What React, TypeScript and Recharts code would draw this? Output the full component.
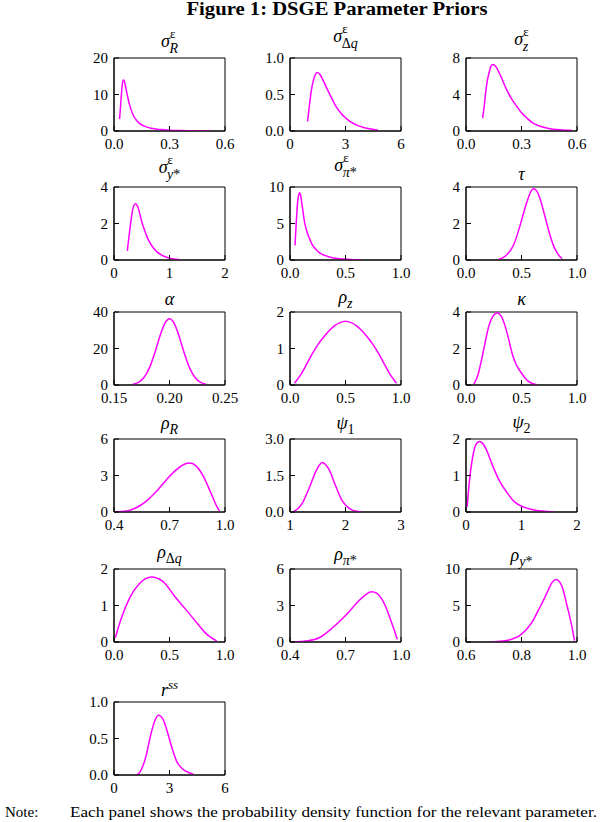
import React from 'react';
import { LineChart, Line, XAxis, YAxis, ReferenceArea } from 'recharts';

const SERIF = '"Liberation Serif", "Times New Roman", Times, serif';
const MAGENTA = '#FF00FF';

// ---------- data ----------
const sigmaR_x = [0.03, 0.035, 0.04, 0.045, 0.05, 0.055, 0.06, 0.07, 0.08, 0.09, 0.1, 0.12, 0.14, 0.17, 0.2, 0.25, 0.3, 0.35, 0.4, 0.46, 0.52];
const sigmaR_y = [3.3, 6.5, 10.0, 12.8, 14.0, 13.8, 12.8, 10.3, 8.0, 6.2, 4.8, 3.0, 2.0, 1.2, 0.75, 0.4, 0.22, 0.13, 0.08, 0.05, 0.03];

const sigmaDq_x = [0.95, 1.05, 1.15, 1.25, 1.35, 1.47, 1.6, 1.8, 2.0, 2.25, 2.5, 2.8, 3.05, 3.3, 3.6, 4.1, 4.75];
const sigmaDq_y = [0.13, 0.35, 0.55, 0.68, 0.76, 0.8, 0.78, 0.69, 0.58, 0.45, 0.33, 0.23, 0.17, 0.12, 0.08, 0.04, 0.01];

const sigmaZ_x = [0.09, 0.1, 0.108, 0.117, 0.126, 0.135, 0.145, 0.16, 0.186, 0.22, 0.25, 0.276, 0.3, 0.33, 0.36, 0.384, 0.43, 0.47, 0.52, 0.57];
const sigmaZ_y = [1.4, 3.0, 4.5, 5.7, 6.5, 7.1, 7.3, 7.1, 6.1, 4.5, 3.4, 2.65, 2.0, 1.4, 0.9, 0.65, 0.35, 0.2, 0.12, 0.07];

const sigmaYs_x = [0.24, 0.27, 0.3, 0.33, 0.36, 0.39, 0.43, 0.5, 0.56, 0.62, 0.7, 0.77, 0.86, 0.95, 1.05, 1.19];
const sigmaYs_y = [0.5, 1.3, 2.0, 2.66, 3.0, 3.08, 2.9, 2.1, 1.55, 1.1, 0.7, 0.46, 0.27, 0.15, 0.07, 0.02];

const sigmaPs_x = [0.045, 0.054, 0.063, 0.072, 0.08, 0.087, 0.095, 0.11, 0.13, 0.15, 0.174, 0.2, 0.234, 0.27, 0.32, 0.38, 0.44, 0.54, 0.64];
const sigmaPs_y = [2.0, 4.5, 6.8, 8.4, 9.0, 9.2, 8.9, 7.4, 5.3, 4.0, 3.0, 2.1, 1.45, 0.95, 0.6, 0.32, 0.18, 0.08, 0.03];

const tau_x = [0.294, 0.33, 0.37, 0.4, 0.43, 0.46, 0.49, 0.52, 0.55, 0.58, 0.61, 0.64, 0.67, 0.7, 0.73, 0.76, 0.79, 0.82, 0.865];
const tau_y = [0.03, 0.12, 0.3, 0.52, 0.85, 1.35, 1.95, 2.6, 3.2, 3.7, 3.9, 3.75, 3.3, 2.65, 1.95, 1.3, 0.76, 0.4, 0.07];

const alpha_x = [0.167, 0.172, 0.177, 0.182, 0.187, 0.192, 0.196, 0.2, 0.204, 0.208, 0.213, 0.218, 0.223, 0.228, 0.233];
const alpha_y = [0.4, 1.4, 4.1, 9.5, 18.1, 27.9, 34.0, 36.3, 34.0, 27.9, 18.1, 9.5, 4.1, 1.4, 0.4];

const rhoZ_x = [0.04, 0.1, 0.15, 0.2, 0.25, 0.3, 0.35, 0.4, 0.45, 0.5, 0.55, 0.6, 0.65, 0.7, 0.75, 0.8, 0.85, 0.9, 0.96];
const rhoZ_y = [0.05, 0.3, 0.57, 0.85, 1.1, 1.3, 1.48, 1.62, 1.71, 1.75, 1.71, 1.62, 1.48, 1.3, 1.1, 0.85, 0.57, 0.3, 0.05];

const kappa_x = [0.07, 0.11, 0.144, 0.175, 0.204, 0.24, 0.28, 0.32, 0.354, 0.385, 0.414, 0.45, 0.49, 0.53, 0.565, 0.64];
const kappa_y = [0.04, 0.6, 1.5, 2.4, 3.2, 3.75, 3.94, 3.75, 3.2, 2.5, 1.77, 1.15, 0.74, 0.4, 0.19, 0.02];

const rhoR_x = [0.404, 0.467, 0.52, 0.575, 0.63, 0.684, 0.738, 0.783, 0.81, 0.846, 0.883, 0.92, 0.955, 0.97];
const rhoR_y = [0.0, 0.08, 0.35, 0.9, 1.7, 2.66, 3.48, 3.94, 4.02, 3.75, 2.93, 1.7, 0.49, 0.08];

const psi1_x = [1.06, 1.15, 1.23, 1.35, 1.47, 1.53, 1.585, 1.64, 1.7, 1.82, 1.94, 2.06, 2.18, 2.29];
const psi1_y = [0.01, 0.15, 0.4, 1.01, 1.69, 1.93, 2.03, 1.95, 1.76, 1.08, 0.47, 0.16, 0.04, 0.0];

const psi2_x = [0.02, 0.06, 0.12, 0.18, 0.24, 0.3, 0.36, 0.48, 0.6, 0.73, 0.88, 1.03, 1.15, 1.27, 1.4, 1.58];
const psi2_y = [0.14, 0.82, 1.5, 1.85, 1.93, 1.88, 1.73, 1.27, 0.86, 0.55, 0.27, 0.14, 0.08, 0.04, 0.02, 0.0];

const rhoDq_x = [0.012, 0.066, 0.14, 0.23, 0.337, 0.44, 0.55, 0.65, 0.74, 0.83, 0.925];
const rhoDq_y = [0.12, 0.65, 1.2, 1.6, 1.78, 1.66, 1.24, 0.88, 0.55, 0.23, 0.03];

const rhoPs_x = [0.423, 0.486, 0.558, 0.63, 0.7, 0.77, 0.81, 0.84, 0.87, 0.897, 0.92, 0.943, 0.965, 0.98];
const rhoPs_y = [0.0, 0.08, 0.35, 1.17, 2.18, 3.35, 3.9, 4.12, 4.0, 3.5, 2.8, 1.85, 0.9, 0.22];

const rhoYs_x = [0.69, 0.745, 0.794, 0.82, 0.842, 0.86, 0.879, 0.895, 0.909, 0.925, 0.945, 0.964, 0.982, 0.991];
const rhoYs_y = [0.0, 0.2, 0.9, 1.8, 2.95, 4.3, 5.7, 7.0, 8.1, 8.55, 7.7, 5.0, 2.05, 0.2];

const rss_x = [1.21, 1.4, 1.57, 1.75, 1.93, 2.2, 2.4, 2.66, 2.84, 3.02, 3.2, 3.38, 3.6, 3.83, 4.29];
const rss_y = [0.0, 0.04, 0.13, 0.28, 0.49, 0.74, 0.82, 0.76, 0.63, 0.47, 0.32, 0.19, 0.11, 0.06, 0.01];

// ---------- tick values and labels ----------
const xt_0_06 = [0, 0.3, 0.6];      const xl_0_06 = ['0.0', '0.3', '0.6'];
const xt_0_6 = [0, 3, 6];           const xl_0_6 = ['0', '3', '6'];
const xt_0_2 = [0, 1, 2];           const xl_0_2 = ['0', '1', '2'];
const xt_0_1 = [0, 0.5, 1];         const xl_0_1 = ['0.0', '0.5', '1.0'];
const xt_015 = [0.15, 0.2, 0.25];   const xl_015 = ['0.15', '0.20', '0.25'];
const xt_04_1 = [0.4, 0.7, 1];      const xl_04_1 = ['0.4', '0.7', '1.0'];
const xt_1_3 = [1, 2, 3];           const xl_1_3 = ['1', '2', '3'];
const xt_06_1 = [0.6, 0.8, 1];      const xl_06_1 = ['0.6', '0.8', '1.0'];

const yt_20 = [0, 10, 20];   const yl_20 = ['0', '10', '20'];
const yt_1 = [0, 0.5, 1];    const yl_1 = ['0.0', '0.5', '1.0'];
const yt_8 = [0, 4, 8];      const yl_8 = ['0', '4', '8'];
const yt_4 = [0, 2, 4];      const yl_4 = ['0', '2', '4'];
const yt_10 = [0, 5, 10];    const yl_10 = ['0', '5', '10'];
const yt_40 = [0, 20, 40];   const yl_40 = ['0', '20', '40'];
const yt_2 = [0, 1, 2];      const yl_2 = ['0', '1', '2'];
const yt_6 = [0, 3, 6];      const yl_6 = ['0', '3', '6'];
const yt_3 = [0, 1.5, 3];    const yl_3 = ['0.0', '1.5', '3.0'];

// ---------- panel titles ----------
type Part = { t: string; it?: boolean };
type Title = { main: Part; sup?: Part[]; sub?: Part[]; b: number };

const EPS: Part[] = [{ t: 'ε' }];
const titles: Title[] = [
  { main: { t: 'σ', it: true }, sup: EPS, sub: [{ t: 'R', it: true }], b: 11 },
  { main: { t: 'σ', it: true }, sup: EPS, sub: [{ t: 'Δ' }, { t: 'q', it: true }], b: 16 },
  { main: { t: 'σ', it: true }, sup: EPS, sub: [{ t: 'z', it: true }], b: 13 },
  { main: { t: 'σ', it: true }, sup: EPS, sub: [{ t: 'y', it: true }, { t: '*' }], b: 14 },
  { main: { t: 'σ', it: true }, sup: EPS, sub: [{ t: 'π', it: true }, { t: '*' }], b: 16 },
  { main: { t: 'τ', it: true }, b: 7 },
  { main: { t: 'α', it: true }, b: 7 },
  { main: { t: 'ρ', it: true }, sub: [{ t: 'z', it: true }], b: 9 },
  { main: { t: 'κ', it: true }, b: 7 },
  { main: { t: 'ρ', it: true }, sub: [{ t: 'R', it: true }], b: 10 },
  { main: { t: 'ψ', it: true }, sub: [{ t: '1' }], b: 10 },
  { main: { t: 'ψ', it: true }, sub: [{ t: '2' }], b: 11 },
  { main: { t: 'ρ', it: true }, sub: [{ t: 'Δ' }, { t: 'q', it: true }], b: 11 },
  { main: { t: 'ρ', it: true }, sub: [{ t: 'π', it: true }, { t: '*' }], b: 9 },
  { main: { t: 'ρ', it: true }, sub: [{ t: 'y', it: true }, { t: '*' }], b: 8 },
  { main: { t: 'r', it: true }, sup: [{ t: 'ss', it: true }], b: 6 },
];

type Panel = {
  xs: number[]; ys: number[];
  xt: number[]; xl: string[]; yt: number[]; yl: string[];
};

const panels: Panel[] = [
  { xs: sigmaR_x, ys: sigmaR_y, xt: xt_0_06, xl: xl_0_06, yt: yt_20, yl: yl_20 },
  { xs: sigmaDq_x, ys: sigmaDq_y, xt: xt_0_6, xl: xl_0_6, yt: yt_1, yl: yl_1 },
  { xs: sigmaZ_x, ys: sigmaZ_y, xt: xt_0_06, xl: xl_0_06, yt: yt_8, yl: yl_8 },
  { xs: sigmaYs_x, ys: sigmaYs_y, xt: xt_0_2, xl: xl_0_2, yt: yt_4, yl: yl_4 },
  { xs: sigmaPs_x, ys: sigmaPs_y, xt: xt_0_1, xl: xl_0_1, yt: yt_10, yl: yl_10 },
  { xs: tau_x, ys: tau_y, xt: xt_0_1, xl: xl_0_1, yt: yt_4, yl: yl_4 },
  { xs: alpha_x, ys: alpha_y, xt: xt_015, xl: xl_015, yt: yt_40, yl: yl_40 },
  { xs: rhoZ_x, ys: rhoZ_y, xt: xt_0_1, xl: xl_0_1, yt: yt_2, yl: yl_2 },
  { xs: kappa_x, ys: kappa_y, xt: xt_0_1, xl: xl_0_1, yt: yt_4, yl: yl_4 },
  { xs: rhoR_x, ys: rhoR_y, xt: xt_04_1, xl: xl_04_1, yt: yt_6, yl: yl_6 },
  { xs: psi1_x, ys: psi1_y, xt: xt_1_3, xl: xl_1_3, yt: yt_3, yl: yl_3 },
  { xs: psi2_x, ys: psi2_y, xt: xt_0_2, xl: xl_0_2, yt: yt_2, yl: yl_2 },
  { xs: rhoDq_x, ys: rhoDq_y, xt: xt_0_1, xl: xl_0_1, yt: yt_2, yl: yl_2 },
  { xs: rhoPs_x, ys: rhoPs_y, xt: xt_04_1, xl: xl_04_1, yt: yt_6, yl: yl_6 },
  { xs: rhoYs_x, ys: rhoYs_y, xt: xt_06_1, xl: xl_06_1, yt: yt_10, yl: yl_10 },
  { xs: rss_x, ys: rss_y, xt: xt_0_6, xl: xl_0_6, yt: yt_1, yl: yl_1 },
];

// ---------- layout ----------
const COL_X = [114, 290, 466];
const ROW_Y = [58, 187, 312, 439, 569, 702];
const PW = 111;
const PH = 73;
const ML = 45;
const MT = 10;
const MR = 25;
const XH = 28;
const TICK_FONT = 15;

function fmt(ticks: number[], labels: string[]) {
  return (v: number) => {
    const i = ticks.findIndex((t) => Math.abs(t - v) < 1e-9);
    return i >= 0 ? labels[i] : String(v);
  };
}

function PanelChart({ p, idx }: { p: Panel; idx: number }) {
  const col = idx % 3;
  const row = Math.floor(idx / 3);
  const data = p.xs.map((x, i) => ({ x, y: p.ys[i] }));
  const xd: [number, number] = [p.xt[0], p.xt[2]];
  const yd: [number, number] = [p.yt[0], p.yt[2]];
  const tickStyle = { fill: '#000', fontSize: TICK_FONT, fontFamily: SERIF };
  return (
    <div style={{ position: 'absolute', left: COL_X[col] - ML, top: ROW_Y[row] - MT }}>
      <LineChart
        width={ML + PW + MR}
        height={MT + PH + XH}
        data={data}
        margin={{ top: MT, right: MR, bottom: 0, left: 0 }}
      >
        <XAxis
          type="number"
          dataKey="x"
          domain={xd}
          ticks={p.xt}
          interval={0}
          allowDataOverflow
          height={XH}
          tickSize={-5}
          tickMargin={12}
          stroke="#000"
          tick={tickStyle}
          tickFormatter={fmt(p.xt, p.xl)}
        />
        <YAxis
          type="number"
          domain={yd}
          ticks={p.yt}
          interval={0}
          allowDataOverflow
          width={ML}
          tickSize={-5}
          tickMargin={11}
          stroke="#000"
          tick={tickStyle}
          tickFormatter={fmt(p.yt, p.yl)}
        />
        <ReferenceArea
          x1={xd[0]}
          x2={xd[1]}
          y1={yd[0]}
          y2={yd[1]}
          fill="none"
          fillOpacity={0}
          stroke="#000"
          strokeWidth={1}
          strokeOpacity={1}
          ifOverflow="visible"
        />
        <Line
          type="monotone"
          dataKey="y"
          stroke={MAGENTA}
          strokeWidth={1.5}
          dot={false}
          activeDot={false}
          isAnimationActive={false}
        />
      </LineChart>
    </div>
  );
}

function TitleText({ t, idx }: { t: Title; idx: number }) {
  const col = idx % 3;
  const row = Math.floor(idx / 3);
  const cx = COL_X[col] + PW / 2;
  const y = ROW_Y[row] - t.b;
  const supW = t.sup && t.sup[0].t === 'ε' ? 6 : 10;
  return (
    <text x={cx} y={y} textAnchor="middle" fontFamily={SERIF} fontSize={18} fill="#000">
      <tspan fontStyle={t.main.it ? 'italic' : 'normal'}>{t.main.t}</tspan>
      {t.sup &&
        t.sup.map((s, i) => (
          <tspan key={'p' + i} fontSize={13} fontStyle={s.it ? 'italic' : 'normal'} dy={i === 0 ? (t.sub ? -9 : -7) : 0}>
            {s.t}
          </tspan>
        ))}
      {t.sub &&
        t.sub.map((s, i) => (
          <tspan
            key={'b' + i}
            fontSize={14}
            fontStyle={s.it ? 'italic' : 'normal'}
            dx={i === 0 && t.sup ? -supW : 0}
            dy={i === 0 ? (t.sup ? 15 : 5) : 0}
          >
            {s.t}
          </tspan>
        ))}
    </text>
  );
}

export default function App() {
  return (
    <div style={{ position: 'absolute', left: 0, top: 0, width: 600, height: 822, background: '#fff', overflow: 'hidden' }}>
      {panels.map((p, i) => (
        <PanelChart key={i} p={p} idx={i} />
      ))}
      <svg width={600} height={822} style={{ position: 'absolute', left: 0, top: 0, pointerEvents: 'none' }}>
        <text x={337} y={15} textAnchor="middle" fontFamily={SERIF} fontWeight="bold" fontSize={18} fill="#000" textLength={301} lengthAdjust="spacingAndGlyphs">
          Figure 1: DSGE Parameter Priors
        </text>
        {titles.map((t, i) => (
          <TitleText key={i} t={t} idx={i} />
        ))}
        <text x={5} y={817} fontFamily={SERIF} fontSize={15} fill="#000">Note:</text>
        <text x={70} y={817} fontFamily={SERIF} fontSize={15} fill="#000" textLength={527} lengthAdjust="spacingAndGlyphs">
          Each panel shows the probability density function for the relevant parameter.
        </text>
      </svg>
    </div>
  );
}
